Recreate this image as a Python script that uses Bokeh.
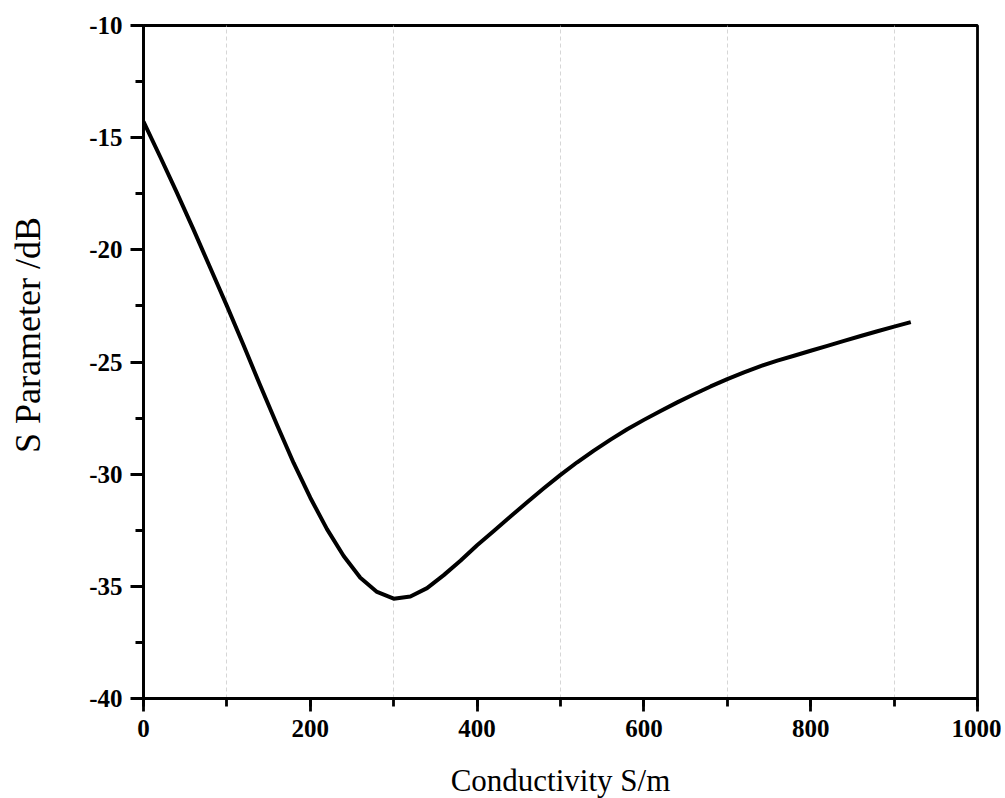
from bokeh.plotting import figure
from bokeh.models import Range1d, SingleIntervalTicker, FixedTicker, PrintfTickFormatter
from bokeh.embed import file_html
from bokeh.resources import INLINE

conductivity = [0, 20, 40, 60, 80, 100, 120, 140, 160, 180, 200, 220, 240, 260, 280,
                300, 320, 340, 360, 380, 400, 420, 440, 460, 480, 500, 520, 540, 560,
                580, 600, 620, 640, 660, 680, 700, 720, 740, 760, 780, 800, 820, 840,
                860, 880, 900, 920]
s_param = [-14.28, -15.85, -17.45, -19.1, -20.8, -22.5, -24.25, -26.05, -27.8, -29.5,
           -31.05, -32.45, -33.65, -34.62, -35.25, -35.55, -35.45, -35.08, -34.5, -33.86,
           -33.17, -32.53, -31.89, -31.25, -30.63, -30.03, -29.47, -28.95, -28.46,
           -28.0, -27.58, -27.18, -26.8, -26.44, -26.09, -25.76, -25.46, -25.18, -24.94,
           -24.72, -24.5, -24.28, -24.06, -23.84, -23.63, -23.42, -23.22]
grid_positions = [100, 300, 500, 700, 900]

FONT = "'Liberation Serif', 'Times New Roman', serif"

p = figure(frame_width=834, frame_height=673, output_backend="svg", toolbar_location=None,
           x_range=Range1d(0, 1000), y_range=Range1d(-40, -10),
           min_border_left=143, min_border_right=24, min_border_top=25, min_border_bottom=90)
p.background_fill_color = "white"
p.border_fill_color = "white"
p.outline_line_color = "black"
p.outline_line_width = 2.8

p.line(conductivity, s_param, line_color="black", line_width=4, line_join="round")

p.xaxis.ticker = SingleIntervalTicker(interval=200, num_minor_ticks=2)
p.yaxis.ticker = SingleIntervalTicker(interval=5, num_minor_ticks=2)
p.xaxis.formatter = PrintfTickFormatter(format="%d")
p.yaxis.formatter = PrintfTickFormatter(format="%d")
p.xgrid.ticker = FixedTicker(ticks=grid_positions)
p.xgrid.grid_line_color = "#d6d6d6"
p.xgrid.grid_line_dash = "4 3"
p.xgrid.grid_line_width = 1
p.ygrid.grid_line_color = None

for ax in (p.xaxis[0], p.yaxis[0]):
    ax.axis_line_width = 2.8
    ax.axis_line_color = "black"
    ax.major_tick_line_width = 2.8
    ax.minor_tick_line_width = 2.8
    ax.major_tick_out = 13
    ax.major_tick_in = 0
    ax.minor_tick_out = 8
    ax.minor_tick_in = 0
    ax.major_label_text_font = FONT
    ax.major_label_text_font_style = "bold"
    ax.major_label_text_font_size = "25px"
    ax.major_label_text_color = "black"
    ax.axis_label_text_font = FONT
    ax.axis_label_text_font_style = "normal"
    ax.axis_label_text_color = "black"

p.xaxis.axis_label_text_font_size = "31px"
p.yaxis.axis_label_text_font_size = "36px"
p.xaxis.axis_label = "Conductivity S/m"
p.yaxis.axis_label = "\u00a0" * 6 + "S Parameter /dB"
p.xaxis.major_label_standoff = 8
p.yaxis.major_label_standoff = 8
p.xaxis.axis_label_standoff = 23
p.yaxis.axis_label_standoff = 38

open("out.html", "w").write(file_html(p, INLINE))
